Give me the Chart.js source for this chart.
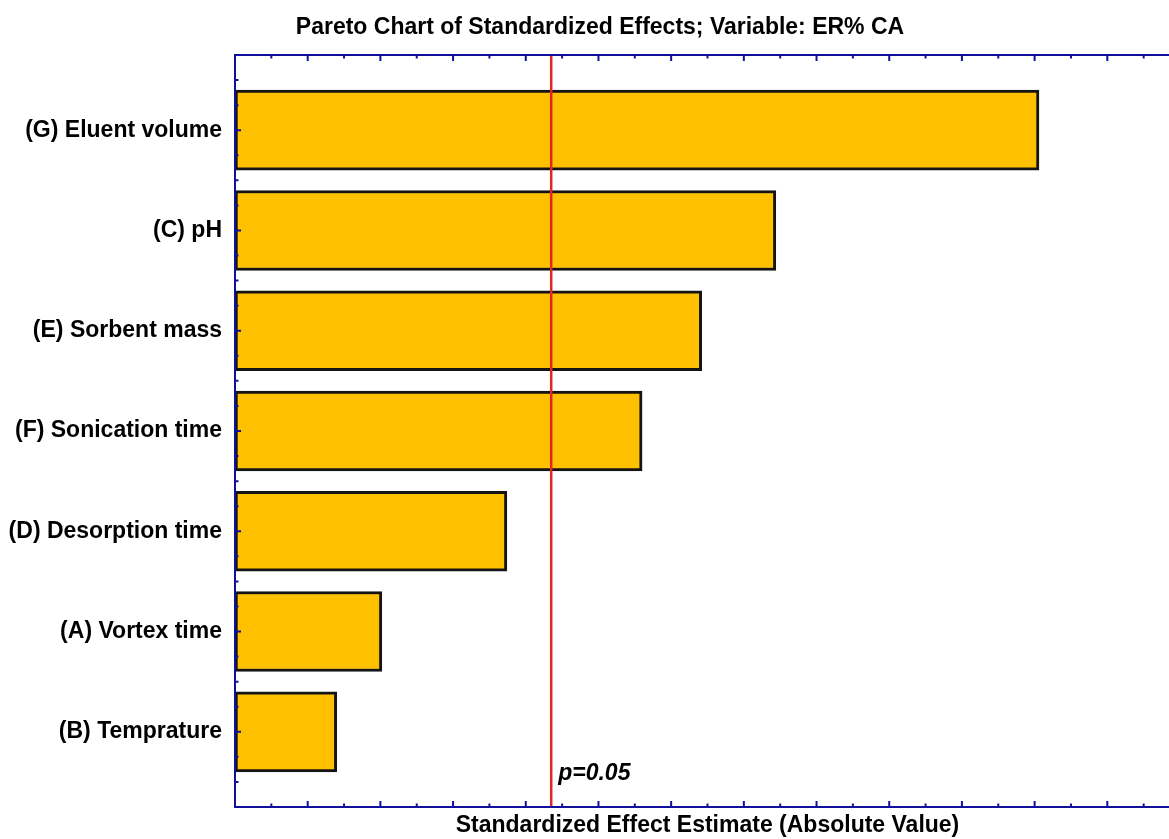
<!DOCTYPE html>
<html>
<head>
<meta charset="utf-8">
<title>Pareto Chart of Standardized Effects</title>
<script src="https://cdn.jsdelivr.net/npm/chart.js@4.4.1/dist/chart.umd.min.js"></script>
<style>
  html, body { margin: 0; padding: 0; background: #ffffff; overflow: hidden; }
  #wrap { width: 1200px; height: 839px; }
</style>
</head>
<body>
<div id="wrap"><canvas id="pareto" width="1200" height="839"></canvas></div>
<script>
// Factors, ordered from largest to smallest standardized effect
const factors = [
  '(G) Eluent volume',
  '(C) pH',
  '(E) Sorbent mass',
  '(F) Sonication time',
  '(D) Desorption time',
  '(A) Vortex time',
  '(B) Temprature'
];
// Absolute standardized effect estimates
const effects = [5.53, 3.72, 3.21, 2.80, 1.87, 1.01, 0.70];
// Critical t value for p = 0.05
const pCritical = 2.175;
const pLabel = 'p=0.05';

const AXIS_BLUE = '#10109c';
const FONT = '"Liberation Sans", Arial, sans-serif';

// Frame, inward tick marks and the significance line
const paretoDecor = {
  id: 'paretoDecor',
  afterDatasetsDraw(chart) {
    const { ctx, chartArea: { left, right, top, bottom }, scales: { x, y } } = chart;
    ctx.save();

    // significance threshold
    const xr = x.getPixelForValue(pCritical);
    ctx.strokeStyle = '#e0262a';
    ctx.lineWidth = 2.5;
    ctx.beginPath();
    ctx.moveTo(xr, top);
    ctx.lineTo(xr, bottom);
    ctx.stroke();

    ctx.fillStyle = '#000000';
    ctx.font = 'italic bold 23px ' + FONT;
    ctx.textAlign = 'left';
    ctx.textBaseline = 'alphabetic';
    ctx.fillText(pLabel, xr + 7, bottom - 27);

    // axis frame
    ctx.strokeStyle = AXIS_BLUE;
    ctx.lineWidth = 2;
    ctx.strokeRect(left, top, right - left, bottom - top);

    // horizontal axis ticks (top and bottom, pointing inward)
    ctx.beginPath();
    x.ticks.forEach(t => {
      const px = x.getPixelForValue(t.value);
      const major = Math.abs(t.value * 2 - Math.round(t.value * 2)) < 1e-6;
      const len = major ? 6 : 3.5;
      ctx.moveTo(px, top);
      ctx.lineTo(px, top + len);
      ctx.moveTo(px, bottom);
      ctx.lineTo(px, bottom - len);
    });
    // vertical axis ticks (left, pointing inward)
    y.ticks.forEach(t => {
      const py = y.getPixelForValue(t.value);
      const major = Math.abs(t.value - Math.round(t.value)) < 1e-6;
      const len = major ? 6 : 3.5;
      ctx.moveTo(left, py);
      ctx.lineTo(left + len, py);
    });
    ctx.stroke();
    ctx.restore();
  }
};

new Chart(document.getElementById('pareto'), {
  type: 'bar',
  data: {
    datasets: [{
      data: effects.map((v, i) => ({ x: v, y: i })),
      backgroundColor: '#ffc000',
      borderColor: '#141414',
      borderWidth: 3,
      borderSkipped: false,
      barThickness: 80,
      xAxisID: 'x',
      yAxisID: 'y'
    }]
  },
  options: {
    indexAxis: 'y',
    responsive: false,
    animation: false,
    devicePixelRatio: 1,
    layout: { padding: 0 },
    plugins: {
      legend: { display: false },
      tooltip: { enabled: false },
      title: {
        display: true,
        text: 'Pareto Chart of Standardized Effects; Variable: ER% CA',
        color: '#000000',
        font: { family: FONT, size: 23, weight: 'bold', lineHeight: 1.2 },
        padding: { top: 14, bottom: 13.4 }
      }
    },
    scales: {
      x: {
        type: 'linear',
        position: 'bottom',
        min: 0,
        max: 6.5,
        offset: false,
        ticks: { display: false, stepSize: 0.25 },
        grid: { display: false, tickLength: 0 },
        border: { display: false },
        title: {
          display: true,
          text: 'Standardized Effect Estimate (Absolute Value)',
          color: '#000000',
          font: { family: FONT, size: 23, weight: 'bold', lineHeight: 1.2 },
          padding: { top: 0, bottom: 0 }
        },
        afterFit(scale) { scale.height = 32; }
      },
      y: {
        type: 'linear',
        position: 'left',
        reverse: true,
        min: -0.75,
        max: 6.75,
        offset: false,
        ticks: {
          stepSize: 0.25,
          autoSkip: false,
          padding: 13,
          color: '#000000',
          font: { family: FONT, size: 23, weight: 'bold' },
          callback: v => (Number.isInteger(v) && factors[v] !== undefined) ? factors[v] : ''
        },
        grid: { display: false, tickLength: 0 },
        border: { display: false },
        afterFit(scale) { scale.width = 235; }
      },
      // empty right-hand margin beside the plot
      yRight: {
        type: 'linear',
        position: 'right',
        ticks: { display: false },
        grid: { display: false, tickLength: 0 },
        border: { display: false },
        afterFit(scale) { scale.width = 20; }
      }
    }
  },
  plugins: [paretoDecor]
});
</script>
</body>
</html>
